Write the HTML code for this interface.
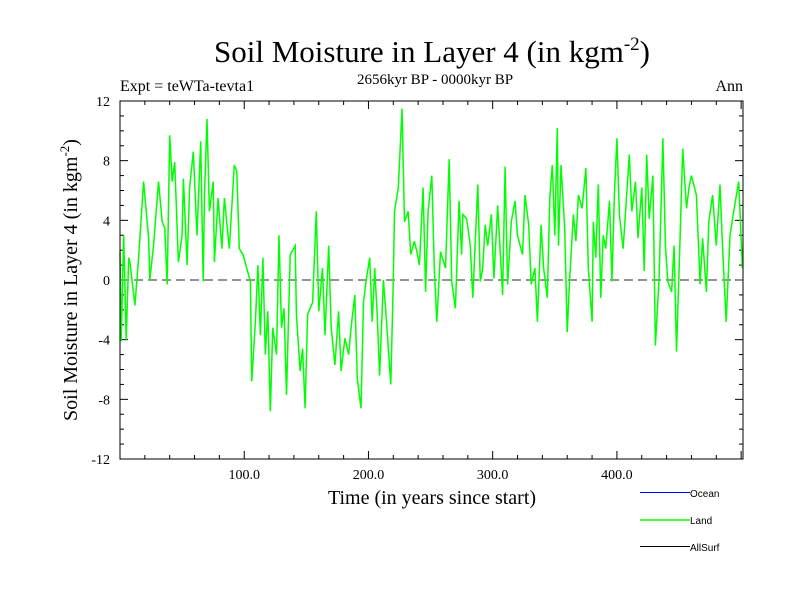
<!DOCTYPE html>
<html><head><meta charset="utf-8"><style>
body{margin:0;background:#fff;}
svg text{font-family:"Liberation Serif",serif;}
</style></head><body>
<svg id="chart" width="800" height="600" xmlns="http://www.w3.org/2000/svg">
<rect width="800" height="600" fill="#fff"/>
<text x="432" y="62" font-size="31" text-anchor="middle">Soil Moisture in Layer 4 (in kgm<tspan dy="-12" font-size="19">-2</tspan><tspan dy="12">)</tspan></text>
<text x="120" y="91" font-size="16">Expt = teWTa-tevta1</text>
<text x="435" y="84" font-size="15" text-anchor="middle">2656kyr BP - 0000kyr BP</text>
<text x="743" y="91" font-size="16" text-anchor="end">Ann</text>
<text transform="translate(77,280) rotate(-90)" font-size="20" text-anchor="middle">Soil Moisture in Layer 4 (in kgm<tspan dy="-8" font-size="13">-2</tspan><tspan dy="8">)</tspan></text>
<text x="432" y="504" font-size="20" text-anchor="middle">Time (in years since start)</text>
<g id="ticks"></g>
<g id="plot"></g>
<rect x="120" y="101" width="623" height="358" fill="none" stroke="#000" stroke-width="1"/>
<g>
<line x1="640" y1="492.5" x2="690" y2="492.5" stroke="#0000ff"/>
<text x="690" y="497" font-size="10" style="font-family:'Liberation Sans',sans-serif">Ocean</text>
<line x1="640" y1="520" x2="690" y2="520" stroke="#00ff00" stroke-width="1.5"/>
<text x="690" y="524" font-size="10" style="font-family:'Liberation Sans',sans-serif">Land</text>
<line x1="640" y1="546.5" x2="690" y2="546.5" stroke="#000"/>
<text x="690" y="551" font-size="10" style="font-family:'Liberation Sans',sans-serif">AllSurf</text>
</g>
</svg>
<script>
const years=[0,1,3,5,7,8,12,15,19,20,23,24,27,31,34,36,38,40,42,44,47,50,51,54,56,59,62,65,67,68,70,72,75,76,79,82,84,88,92,94,96,99,102,105,106,109,111,113,115,117,119,121,123,126,128,130,132,134,137,141,142,145,147,149,151,155,158,160,163,165,168,170,173,176,178,181,184,186,189,191,194,196,198,201,203,205,207,209,212,214,218,220,221,224,226,227,229,232,234,237,239,241,244,246,248,251,253,255,258,262,265,267,270,273,275,276,279,282,284,286,288,290,292,294,296,299,301,304,308,310,312,315,318,320,324,326,329,331,334,336,339,341,344,346,348,350,352,353,355,358,360,362,365,367,369,372,375,377,380,381,383,385,387,389,391,394,396,398,400,402,405,407,410,412,415,417,420,422,424,426,429,431,434,437,439,441,444,446,448,451,453,456,458,460,464,467,469,472,474,477,480,483,485,488,491,494,498,501];
const landValues=[1.9,-4.1,3.0,-4.0,1.5,1.2,-1.7,1.5,6.6,5.7,2.8,0.0,2.3,6.6,3.9,3.5,-0.3,9.7,6.6,7.9,1.2,3.0,6.8,1.0,6.2,8.6,3.0,9.3,-0.1,5.7,10.8,4.6,6.6,1.2,5.5,2.1,5.5,2.1,7.7,7.3,2.1,1.7,0.8,-0.1,-6.8,-2.8,1.0,-3.7,1.5,-5.0,-2.1,-8.8,-3.2,-5.0,3.0,-3.2,-1.9,-7.7,1.7,2.3,-2.3,-6.1,-4.6,-8.6,-2.3,-1.5,4.6,-2.1,0.8,-3.7,2.3,-3.2,-5.7,-2.1,-6.1,-3.9,-5.0,-3.2,-1.0,-6.6,-8.6,-1.5,-0.1,1.5,-2.8,0.8,-2.3,-6.4,0.0,-2.1,-7.0,0.0,4.6,6.2,9.7,11.5,3.9,4.6,1.7,2.6,1.9,1.0,6.2,-0.8,4.6,7.0,0.8,-2.8,1.9,0.8,8.1,-0.1,-1.9,5.3,1.7,4.4,4.1,2.3,-1.2,2.6,6.4,-0.1,0.8,3.7,2.3,4.4,0.1,5.0,-1.0,7.6,-0.3,3.9,5.3,3.0,1.7,5.7,3.7,-0.3,0.8,-2.8,3.7,0.8,-1.2,5.5,7.7,3.0,10.2,2.3,7.7,3.5,-3.5,0.1,4.4,2.6,5.7,4.8,7.5,0.8,-2.8,3.9,1.5,6.4,-1.2,3.0,2.1,5.3,-0.1,5.7,9.5,4.4,2.1,4.6,8.4,4.6,6.6,2.8,6.2,0.6,8.4,4.1,7.0,-4.4,0.1,9.5,2.3,-0.1,-0.8,2.3,-4.8,3.3,8.8,4.8,6.2,7.0,5.7,-0.3,2.8,-0.8,3.9,5.7,2.3,6.4,2.3,-2.8,3.0,4.6,6.6,0.8];
const yTickValues=[-12,-8,-4,0,4,8,12];
const yTickLabels=["-12","-8","-4","0","4","8","12"];
const xTickValues=[100,200,300,400];
const xTickLabels=["100.0","200.0","300.0","400.0"];
const NS="http://www.w3.org/2000/svg";
const X0=120,X1=743,Y0=459,Y1=101,XMIN=0,XMAX=501.5,YMIN=-12,YMAX=12;
const xs=v=>X0+(v-XMIN)/(XMAX-XMIN)*(X1-X0);
const ys=v=>Y0-(v-YMIN)/(YMAX-YMIN)*(Y0-Y1);
function mk(tag,attrs,parent){const e=document.createElementNS(NS,tag);for(const k in attrs)e.setAttribute(k,attrs[k]);parent.appendChild(e);return e;}
const tk=document.getElementById('ticks');
for(let v=YMIN;v<=YMAX;v++){const L=(v%4===0)?8:4;const y=ys(v);
 const a=mk('line',{x1:X0,y1:y,x2:X0+L,y2:y,stroke:'#000'},tk);
 
 
 const b=mk('line',{x1:X1,y1:y,x2:X1-L,y2:y,stroke:'#000'},tk);
 
 }
for(let v=20;v<XMAX;v+=20){const L=(v%100===0)?8:4;const x=xs(v);
 const a=mk('line',{x1:x,y1:Y0,x2:x,y2:Y0-L,stroke:'#000'},tk);
 
 
 const b=mk('line',{x1:x,y1:Y1,x2:x,y2:Y1+L,stroke:'#000'},tk);
 
 }
yTickValues.forEach((v,i)=>{const t=mk('text',{x:110,y:ys(v)+5,'font-size':14,'text-anchor':'end'},tk);t.textContent=yTickLabels[i];
 
 });
xTickValues.forEach((v,i)=>{const t=mk('text',{x:xs(v),y:479,'font-size':14,'text-anchor':'middle'},tk);t.textContent=xTickLabels[i];
 
 });
const pl=document.getElementById('plot');
const zl=mk('line',{x1:X0,y1:ys(0),x2:X1,y2:ys(0),stroke:'#555','stroke-dasharray':'9,5','stroke-width':1.3},pl);


const d=years.map((t,i)=>(i?'L':'M')+xs(t).toFixed(1)+' '+ys(landValues[i]).toFixed(1)).join(' ');
const p=mk('path',{d:d,fill:'none',stroke:'#00ff00','stroke-width':1.5},pl);


</script>
</body></html>
